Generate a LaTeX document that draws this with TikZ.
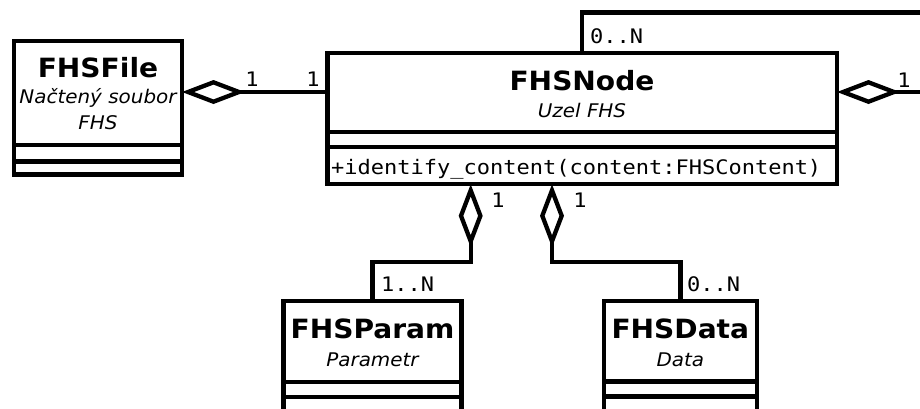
\documentclass[tikz,border=0pt]{standalone}
\usepackage{fontspec}
\setmainfont{DejaVu Sans}[FakeStretch=1.06]
\setmonofont{DejaVu Sans Mono}[FakeStretch=1.1]
\usetikzlibrary{arrows.meta}
\tikzset{
  cls/.style={draw, line width=4.3pt, inner sep=0pt, outer sep=0pt, anchor=north west},
  cname/.style={font=\bfseries\fontsize{26.5}{30}\selectfont, inner sep=0pt, anchor=base},
  csub/.style={font=\itshape\fontsize{18.8}{22}\selectfont, inner sep=0pt, anchor=base},
  mono/.style={font=\ttfamily\fontsize{20}{24}\selectfont, inner sep=0pt, anchor=base},
  monow/.style={mono, anchor=base west},
  sepline/.style={line width=4.3pt},
  conn/.style={line width=4.3pt},
  agg/.style={conn, {Diamond[open,length=63pt,width=24pt]}-},
}
\begin{document}
\begin{tikzpicture}[x=1pt,y=-1pt]
\useasboundingbox (0,0) rectangle (920,408);
\fill[white] (0,0) rectangle (920,408);
\clip (0,0) rectangle (920,408);

% classes
\node[cls, minimum width=168pt, minimum height=133.5pt] (file) at (14,41) {};
\draw[sepline] (14,145) -- (182,145);
\draw[sepline] (14,161.5) -- (182,161.5);
\node[cname] (fileN) at (98,77.3) {FHSFile};
\node[csub] (fileS1) at (98,103.5) {Načtený soubor};
\node[csub] (fileS2) at (98,129.5) {FHS};

\node[cls, minimum width=509.5pt, minimum height=131.3pt] (fnode) at (327.5,53) {};
\draw[sepline] (327.5,132) -- (837,132);
\draw[sepline] (327.5,147) -- (837,147);
\node[cname] (fnodeN) at (582,90.5) {FHSNode};
\node[csub] (fnodeS) at (582,117.5) {Uzel FHS};
\node[monow] (fnodeM) at (331,174.5) {+identify\_content(content:FHSContent)};

\node[cls, minimum width=178pt, minimum height=160pt] (param) at (283.5,301) {};
\draw[sepline] (283.5,381.7) -- (461.5,381.7);
\draw[sepline] (283.5,396.7) -- (461.5,396.7);
\node[cname] (paramN) at (372.5,338.5) {FHSParam};
\node[csub] (paramS) at (372.5,366) {Parametr};

\node[cls, minimum width=153.3pt, minimum height=160pt] (data) at (603.7,301) {};
\draw[sepline] (603.7,381.5) -- (757,381.5);
\draw[sepline] (603.7,396.5) -- (757,396.5);
\node[cname] (dataN) at (680.3,338.5) {FHSData};
\node[csub] (dataS) at (680.3,366) {Data};

% connectors
\draw[agg] (file.east |- 0,92) -- (fnode.west |- 0,92);
\node[mono] (m1) at (252,86) {1};
\node[mono] (m2) at (313,86) {1};

\coordinate (loopA) at (950,92);
\coordinate (loopB) at (950,12.5);
\draw[agg] (fnode.east |- 0,92) -- (loopA) -- (loopB) -| (fnode.north);
\node[mono] (m3) at (904,87) {1};
\node[monow] (m4) at (590,43) {0..N};

\coordinate (pBend) at (470.7,262);
\draw[agg] (fnode.south -| pBend) -- (pBend) -| (param.north);
\node[mono] (m5) at (498,207) {1};
\node[monow] (m6) at (381,291) {1..N};

\coordinate (dBend) at (552,262);
\draw[agg] (fnode.south -| dBend) -- (dBend) -| (data.north);
\node[mono] (m7) at (580,207) {1};
\node[monow] (m8) at (687,291) {0..N};
\end{tikzpicture}
\end{document}
